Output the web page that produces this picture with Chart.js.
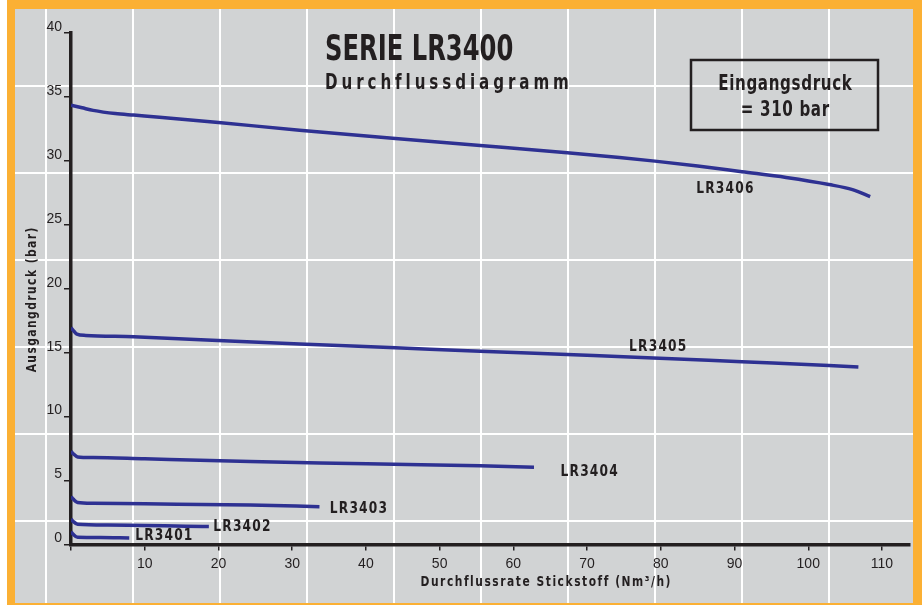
<!DOCTYPE html>
<html>
<head>
<meta charset="utf-8">
<script src="https://cdn.jsdelivr.net/npm/chart.js@4"></script>
<style>
  html, body { margin: 0; padding: 0; background: #fff; }
  body { width: 922px; height: 605px; position: relative; overflow: hidden; }
  .frame {
    position: absolute; left: 7px; top: 0; width: 898px; height: 594px;
    border-left: 8px solid #fbb034; border-top: 9px solid #fbb034;
    border-right: 9px solid #fbb034; border-bottom: 2px solid #fbb034;
    background-color: #d1d3d4;
    /* decorative white grid of the printed sheet */
    background-image:
      repeating-linear-gradient(90deg, transparent 0 30px, #fff 30px 32px, transparent 32px 87px),
      repeating-linear-gradient(180deg, transparent 0 76px, #fff 76px 78px, transparent 78px 87px);
  }
  #wrap { position: absolute; left: 0; top: 0; width: 922px; height: 605px; }
</style>
</head>
<body>
<div class="frame"></div>
<div id="wrap"><canvas id="flowChart"></canvas></div>
<script>
// Ausgangsdruck (bar) vs. Durchfluss Stickstoff (Nm3/h), values read from the sheet
const series = ['LR3401', 'LR3402', 'LR3403', 'LR3404', 'LR3405', 'LR3406'];

const flowLR3401 = [0, 0.3, 0.9, 4, 7.9];
const presLR3401 = [1.0, 0.8, 0.56, 0.54, 0.51];

const flowLR3402 = [0, 0.3, 0.9, 5, 18.7];
const presLR3402 = [2.0, 1.8, 1.58, 1.52, 1.4];

const flowLR3403 = [0, 0.3, 0.9, 3, 10, 24.3, 33.7];
const presLR3403 = [3.75, 3.55, 3.28, 3.22, 3.18, 3.09, 2.96];

const flowLR3404 = [0, 0.3, 0.9, 3, 10, 24.3, 33.8, 43.8, 55.5, 62.8];
const presLR3404 = [7.3, 7.1, 6.85, 6.8, 6.7, 6.5, 6.38, 6.28, 6.16, 6.05];

const flowLR3405 = [0, 0.3, 0.8, 2, 8.5, 17.6, 31, 44, 55.5, 67.3, 79, 91, 102.8, 106.8];
const presLR3405 = [16.95, 16.75, 16.45, 16.35, 16.25, 16.02, 15.68, 15.38, 15.11, 14.85, 14.59, 14.29, 14.0, 13.88];

const flowLR3406 = [0, 1.5, 3, 6, 8.5, 12, 20, 31, 44, 55.5, 67.3, 74.4, 79.2, 85, 91, 97, 102.8, 106, 108.4];
const presLR3406 = [34.35, 34.15, 33.95, 33.7, 33.58, 33.42, 33.0, 32.4, 31.75, 31.2, 30.63, 30.26, 29.98, 29.6, 29.15, 28.7, 28.15, 27.75, 27.2];

// where each curve name sits (flow, pressure)
const labelFlow = [8.7, 19.3, 35.1, 66.4, 75.7, 84.8];
const labelPres = [0.67, 1.39, 2.78, 5.68, 15.47, 27.84];

const xMax = 113.8;
const yMax = 40;

const FONT = '"Liberation Sans Narrow", "DejaVu Sans Condensed", "Liberation Sans", sans-serif';
const TICK_FONT = '"Liberation Sans", Arial, sans-serif';
const INK = '#231f20';
const LINE = '#2e3192';

function toPoints(xs, ys) {
    return xs.map((x, i) => ({ x: x, y: ys[i] }));
}

const flows = [flowLR3401, flowLR3402, flowLR3403, flowLR3404, flowLR3405, flowLR3406];
const pressures = [presLR3401, presLR3402, presLR3403, presLR3404, presLR3405, presLR3406];

const datasets = series.map((name, i) => ({
    label: name,
    data: toPoints(flows[i], pressures[i]),
    borderColor: LINE,
    borderWidth: 3.5,
    pointRadius: 0,
    fill: false,
    cubicInterpolationMode: 'monotone'
}));

// letter-spaced text, squeezed horizontally by k to mimic the condensed face
function spacedText(ctx, text, x, y, spacing, align, k) {
    ctx.letterSpacing = spacing + 'px';
    const w = (ctx.measureText(text).width - spacing) * k;
    let sx = x;
    if (align === 'center') sx = x - w / 2;
    if (align === 'right') sx = x - w;
    ctx.save();
    ctx.textAlign = 'left';
    ctx.translate(sx, y);
    ctx.scale(k, 1);
    ctx.fillText(text, 0, 0);
    ctx.restore();
    ctx.letterSpacing = '0px';
}

// headings, pressure box, axis titles and curve names
const decorPlugin = {
    id: 'decor',
    afterDraw(chart) {
        const ctx = chart.ctx;
        const xs = chart.scales.x;
        const ys = chart.scales.y;
        ctx.save();
        ctx.fillStyle = INK;
        ctx.textBaseline = 'alphabetic';

        ctx.font = 'bold 35px ' + FONT;
        spacedText(ctx, 'SERIE LR3400', 325, 60, 0, 'left', 0.77);
        ctx.font = 'bold 21px ' + FONT;
        spacedText(ctx, 'Durchflussdiagramm', 325, 89, 4.9, 'left', 0.8);

        // Eingangsdruck box
        ctx.strokeStyle = INK;
        ctx.lineWidth = 2.5;
        ctx.strokeRect(691, 60, 187, 70);
        ctx.font = 'bold 21px ' + FONT;
        spacedText(ctx, 'Eingangsdruck', 785, 90, 0.8, 'center', 0.8);
        spacedText(ctx, '= 310 bar', 785, 116, 0.8, 'center', 0.8);

        // axis titles
        ctx.font = 'bold 14px ' + FONT;
        ctx.textBaseline = 'middle';
        spacedText(ctx, 'Durchflussrate Stickstoff (Nm³/h)', 545.5, 582, 1.8, 'center', 0.85);
        ctx.save();
        ctx.translate(32, 300);
        ctx.rotate(-Math.PI / 2);
        spacedText(ctx, 'Ausgangdruck (bar)', 0, 0, 1.7, 'center', 0.85);
        ctx.restore();

        // curve names
        ctx.font = 'bold 16px ' + FONT;
        series.forEach((name, i) => {
            const px = xs.getPixelForValue(labelFlow[i]);
            const py = ys.getPixelForValue(labelPres[i]);
            spacedText(ctx, name, px, py, 1.4, 'left', 0.85);
        });
        ctx.restore();
    }
};

new Chart(document.getElementById('flowChart'), {
    type: 'line',
    data: { datasets: datasets },
    options: {
        responsive: true,
        maintainAspectRatio: false,
        animation: false,
        layout: { padding: { top: 33, right: 12, bottom: 0, left: 0 } },
        plugins: {
            legend: { display: false },
            tooltip: { enabled: false }
        },
        scales: {
            x: {
                type: 'linear',
                min: 0,
                max: xMax,
                afterFit: (scale) => { scale.height = 60.5; },
                border: { color: INK, width: 3.5 },
                grid: { drawOnChartArea: false, tickLength: 6, tickColor: INK, lineWidth: 1.5 },
                ticks: {
                    stepSize: 10,
                    includeBounds: false,
                    padding: 5,
                    color: INK,
                    font: { family: TICK_FONT, size: 14 },
                    callback: (v) => v === 0 ? '' : v
                }
            },
            y: {
                type: 'linear',
                min: 0,
                max: yMax,
                afterFit: (scale) => { scale.width = 71; },
                border: { color: INK, width: 3.5 },
                grid: { drawOnChartArea: false, tickLength: 7, tickColor: INK, lineWidth: 1.5 },
                ticks: {
                    stepSize: 5,
                    padding: 2,
                    labelOffset: -6,
                    color: INK,
                    font: { family: TICK_FONT, size: 14 }
                }
            }
        }
    },
    plugins: [decorPlugin]
});
</script>
</body>
</html>
